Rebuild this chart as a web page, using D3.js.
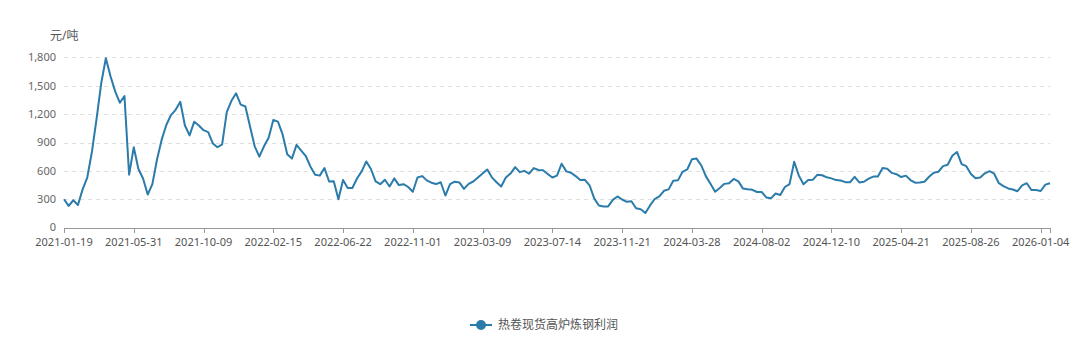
<!DOCTYPE html>
<html>
<head>
<meta charset="utf-8">
<script src="https://cdn.jsdelivr.net/npm/d3@7"></script>
<style>
  html, body { margin: 0; padding: 0; background: #fff; }
  svg { display: block; font-family: "Noto Sans", "Noto Sans CJK SC", sans-serif; }
</style>
</head>
<body>
<svg id="chart" width="1080" height="341"></svg>
<script>
const seriesName = "热卷现货高炉炼钢利润";
const yUnit = "元/吨";
const tickLabels = ["2021-01-19","2021-05-31","2021-10-09","2022-02-15","2022-06-22","2022-11-01","2023-03-09","2023-07-14","2023-11-21","2024-03-28","2024-08-02","2024-12-10","2025-04-21","2025-08-26","2026-01-04"];
const labelEvery = 15;
const yTicks = [0, 300, 600, 900, 1200, 1500, 1800];
const profit = [
  300,230,290,240,405,530,800,1150,1525,1790,
  1600,1440,1320,1390,560,850,620,520,350,460,
  720,930,1085,1190,1245,1330,1080,975,1120,1080,
  1030,1010,890,850,880,1220,1340,1420,1300,1280,
  1070,860,750,860,950,1137,1120,985,775,730,
  875,815,755,645,560,550,630,488,490,300,
  503,420,420,520,595,700,620,490,460,507,
  435,521,450,460,430,380,530,545,500,475,
  461,480,340,460,486,478,410,463,488,530,
  572,615,532,480,435,530,572,640,587,600,
  570,630,610,607,568,530,550,676,595,580,
  545,503,506,448,310,235,225,225,294,330,
  298,273,280,205,195,155,235,303,330,390,
  405,495,500,590,615,722,730,660,545,465,
  380,420,463,470,515,489,413,405,400,377,
  378,320,310,361,345,430,460,697,550,460,
  503,506,560,554,532,521,503,498,481,480,
  537,478,485,518,540,541,630,622,579,565,
  535,550,503,475,477,486,538,581,591,650,
  665,760,800,672,650,568,522,530,574,597,
  570,470,440,415,404,385,448,470,398,398,
  388,455,470
];

(function () {
const svg = d3.select("#chart");
const mLeft = 64, mRight = 1050, mTop = 57.3, mBottom = 227.7;
const x = d3.scaleLinear().domain([0, profit.length - 1]).range([mLeft, mRight]);
const y = d3.scaleLinear().domain([0, 1800]).range([mBottom, mTop]);

// gridlines
svg.append("g").selectAll("line").data(yTicks.filter(d => d > 0)).join("line")
  .attr("x1", mLeft).attr("x2", mRight)
  .attr("y1", d => Math.round(y(d)) + 0.5).attr("y2", d => Math.round(y(d)) + 0.5)
  .attr("stroke", "#e0e0e0").attr("stroke-dasharray", "4,4").attr("stroke-width", 1);

// y labels
svg.append("g").selectAll("text").data(yTicks).join("text")
  .attr("x", mLeft - 8).attr("y", d => y(d) - (d === 0 ? 1 : 0)).attr("dy", "0.35em")
  .attr("text-anchor", "end").attr("font-size", 11).attr("fill", "#666")
  .text(d => d3.format(",")(d));

// y unit
svg.append("text").attr("x", 50).attr("y", 40).attr("font-size", 12).attr("fill", "#555").text(yUnit);

// x axis
const tickIdx = tickLabels.map((d, i) => i * labelEvery);
const xa = svg.append("g");
xa.append("line").attr("x1", mLeft).attr("x2", mRight).attr("y1", Math.round(mBottom) + 0.5).attr("y2", Math.round(mBottom) + 0.5)
  .attr("stroke", "#999").attr("stroke-width", 1);
xa.selectAll("line.tk").data(tickIdx.concat([profit.length - 1])).join("line").attr("class", "tk")
  .attr("x1", d => Math.round(x(d)) + 0.5).attr("x2", d => Math.round(x(d)) + 0.5)
  .attr("y1", Math.round(mBottom)).attr("y2", Math.round(mBottom) + 5).attr("stroke", "#999");
xa.selectAll("text").data(tickLabels).join("text")
  .attr("x", (d, i) => x(tickIdx[i])).attr("y", mBottom + 18)
  .attr("text-anchor", "middle").attr("font-size", 11).attr("fill", "#555")
  .text(d => d);

// line
const line = d3.line().x((d, i) => x(i)).y(d => y(d)).curve(d3.curveLinear);
svg.append("path").datum(profit).attr("d", line)
  .attr("fill", "none").attr("stroke", "#2b7bab").attr("stroke-width", 2).attr("stroke-linejoin", "round");

// legend
const lg = svg.append("g").attr("transform", "translate(470,325)");
lg.append("line").attr("x1", 0).attr("x2", 22).attr("y1", 0).attr("y2", 0).attr("stroke", "#2b7bab").attr("stroke-width", 2);
lg.append("circle").attr("cx", 11).attr("cy", 0).attr("r", 5).attr("fill", "#2b7bab");
lg.append("text").attr("x", 28).attr("y", 0).attr("dy", "0.35em").attr("font-size", 12).attr("fill", "#555").text(seriesName);
})();
</script>
</body>
</html>
